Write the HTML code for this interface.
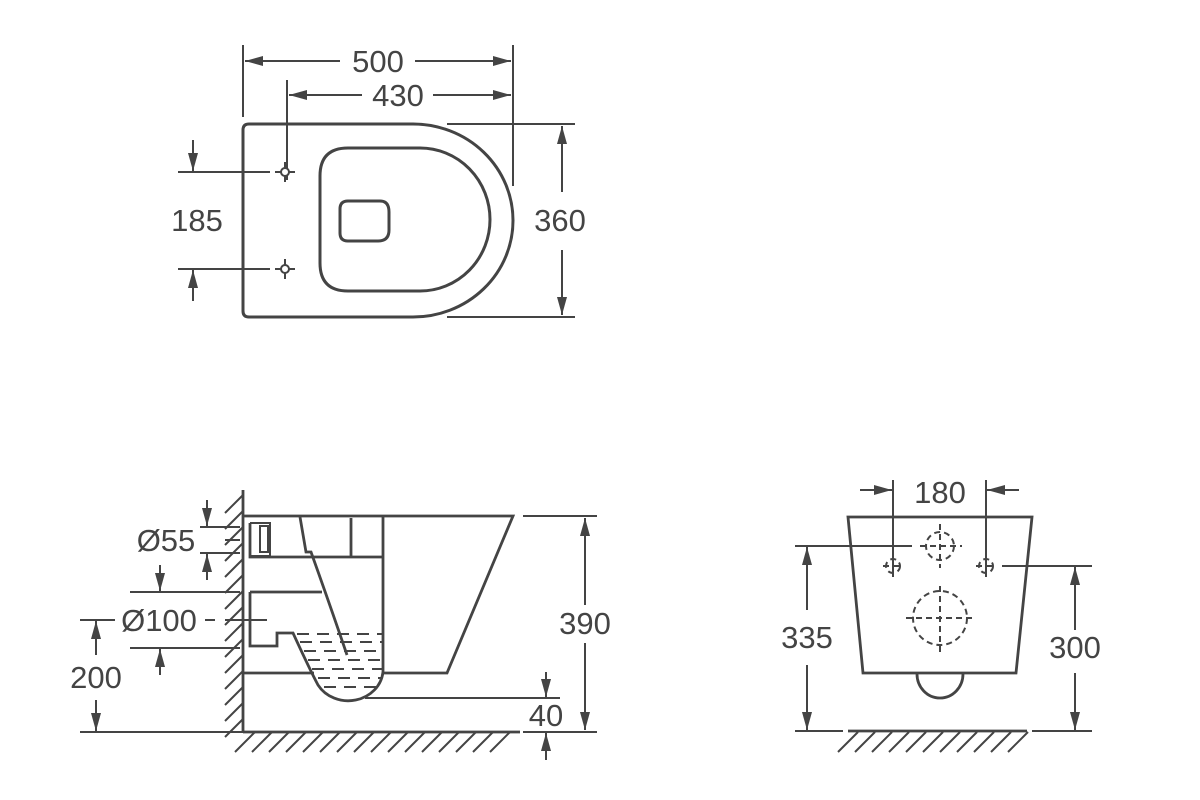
<!DOCTYPE html>
<html><head><style>
html,body{margin:0;padding:0;background:#fff;}
svg{display:block;}
text{font-family:"Liberation Sans",sans-serif;font-size:31px;fill:#444;text-anchor:middle;}
</style></head><body>
<svg width="1200" height="800" viewBox="0 0 1200 800" xmlns="http://www.w3.org/2000/svg">
<defs>
<marker id="a" viewBox="0 0 18 10" refX="18" refY="5" markerWidth="18" markerHeight="10" markerUnits="userSpaceOnUse" orient="auto"><path d="M0,0 L18,5 L0,10 z" fill="#444"/></marker>
</defs>
<g stroke="#444" fill="none" stroke-width="2">
<line x1="243" y1="45" x2="243" y2="117"/>
<line x1="513" y1="45" x2="513" y2="186"/>
<line x1="287" y1="80" x2="287" y2="180"/>
<line x1="340" y1="61" x2="245" y2="61" marker-end="url(#a)"/>
<line x1="415" y1="61" x2="511" y2="61" marker-end="url(#a)"/>
<line x1="362" y1="95" x2="289" y2="95" marker-end="url(#a)"/>
<line x1="433" y1="95" x2="511" y2="95" marker-end="url(#a)"/>
<line x1="178" y1="172" x2="270" y2="172"/>
<line x1="178" y1="269" x2="270" y2="269"/>
<line x1="193" y1="140" x2="193" y2="171" marker-end="url(#a)"/>
<line x1="193" y1="301" x2="193" y2="270" marker-end="url(#a)"/>
<line x1="447" y1="124" x2="575" y2="124"/>
<line x1="447" y1="317" x2="575" y2="317"/>
<line x1="562" y1="192" x2="562" y2="126" marker-end="url(#a)"/>
<line x1="562" y1="250" x2="562" y2="315" marker-end="url(#a)"/>
<line x1="275" y1="172" x2="295" y2="172"/><line x1="285" y1="162" x2="285" y2="182"/>
<line x1="275" y1="269" x2="295" y2="269"/><line x1="285" y1="259" x2="285" y2="279"/>
</g>
<g stroke="#444" fill="none" stroke-width="3">
<path d="M249,124 H413 A100,96.5 0 0 1 413,317 H249 Q243,317 243,311 V130 Q243,124 249,124 Z"/>
<path d="M348,148 H420 A70,71.5 0 0 1 420,291 H348 Q320,291 320,263 V176 Q320,148 348,148 Z"/>
<path d="M348,201 H380 Q389,201 389,212 V230 Q389,241 378,241 H348 Q340,241 340,233 V209 Q340,201 348,201 Z"/>
</g>
<circle cx="285" cy="172" r="4" fill="#fff" stroke="#444" stroke-width="2"/>
<circle cx="285" cy="269" r="4" fill="#fff" stroke="#444" stroke-width="2"/>
<text x="378" y="72">500</text>
<text x="398" y="106">430</text>
<text x="197" y="231">185</text>
<text x="560" y="231">360</text>

<g stroke="#444" fill="none" stroke-width="2">
<line x1="523" y1="516" x2="597" y2="516"/>
<line x1="523" y1="732" x2="597" y2="732"/>
<line x1="585" y1="605" x2="585" y2="518" marker-end="url(#a)"/>
<line x1="585" y1="643" x2="585" y2="730" marker-end="url(#a)"/>
<line x1="365" y1="698" x2="560" y2="698"/>
<line x1="546" y1="672" x2="546" y2="697" marker-end="url(#a)"/>
<line x1="546" y1="760" x2="546" y2="733" marker-end="url(#a)"/>
<line x1="200" y1="527" x2="240" y2="527"/>
<line x1="200" y1="553" x2="240" y2="553"/>
<line x1="207" y1="500" x2="207" y2="526" marker-end="url(#a)"/>
<line x1="207" y1="580" x2="207" y2="554" marker-end="url(#a)"/>
<line x1="130" y1="592" x2="240" y2="592"/>
<line x1="130" y1="648" x2="240" y2="648"/>
<line x1="160" y1="565" x2="160" y2="591" marker-end="url(#a)"/>
<line x1="160" y1="675" x2="160" y2="649" marker-end="url(#a)"/>
<line x1="205" y1="620" x2="215" y2="620"/>
<line x1="225" y1="540" x2="240" y2="540"/>
<line x1="225" y1="620" x2="267" y2="620"/>
<line x1="80" y1="620" x2="115" y2="620"/>
<line x1="80" y1="732" x2="243" y2="732"/>
<line x1="96" y1="655" x2="96" y2="621" marker-end="url(#a)"/>
<line x1="96" y1="700" x2="96" y2="731" marker-end="url(#a)"/>
<path d="M225,513 L243,495 M225,529 L243,511 M225,545 L243,527 M225,561 L243,543 M225,577 L243,559 M225,593 L243,575 M225,609 L243,591 M225,625 L243,607 M225,641 L243,623 M225,657 L243,639 M225,673 L243,655 M225,689 L243,671 M225,705 L243,687 M225,721 L243,703 M225,737 L243,719"/>
<path d="M235,752 L255,732 M252,752 L272,732 M269,752 L289,732 M286,752 L306,732 M303,752 L323,732 M320,752 L340,732 M337,752 L357,732 M354,752 L374,732 M371,752 L391,732 M388,752 L408,732 M405,752 L425,732 M422,752 L442,732 M439,752 L459,732 M456,752 L476,732 M473,752 L493,732 M490,752 L510,732"/>
<g stroke-dasharray="12,8">
<line x1="297" y1="634" x2="382" y2="634"/>
<line x1="300" y1="642" x2="382" y2="642"/>
<line x1="304" y1="651" x2="382" y2="651"/>
<line x1="308" y1="660" x2="382" y2="660"/>
<line x1="312" y1="669" x2="382" y2="669"/>
<line x1="318" y1="678" x2="382" y2="678"/>
<line x1="324" y1="687" x2="376" y2="687"/>
</g>
</g>
<g stroke="#444" fill="none" stroke-width="2.8">
<line x1="243" y1="490" x2="243" y2="732"/>
<line x1="243" y1="732" x2="520" y2="732"/>
<path d="M243,516 H513 L447,673 H383 V516"/>
<path d="M250,523 V557 H383"/>
<line x1="351" y1="518" x2="351" y2="556"/>
<path d="M300,517 L306,552 H311 Q330,605 347,655"/>
<path d="M250,592 H322 M250,592 V646 H277 V633 H293 Q310,670 318,685 A35,32 0 0 0 383,672"/>
<line x1="243" y1="673" x2="314" y2="673"/>
<path d="M250,523 H270 V556 H250" stroke-width="2"/>
<path d="M260,526 H268 V552 H260 Z" stroke-width="2"/>
</g>
<text x="166" y="551">Ø55</text>
<text x="159" y="631">Ø100</text>
<text x="96" y="688">200</text>
<text x="585" y="634">390</text>
<text x="546" y="726">40</text>

<g stroke="#444" fill="none" stroke-width="2">
<line x1="893" y1="480" x2="893" y2="577"/>
<line x1="986" y1="480" x2="986" y2="577"/>
<line x1="860" y1="490" x2="892" y2="490" marker-end="url(#a)"/>
<line x1="1019" y1="490" x2="987" y2="490" marker-end="url(#a)"/>
<line x1="795" y1="546" x2="912" y2="546"/>
<line x1="1002" y1="566" x2="1092" y2="566"/>
<line x1="795" y1="731" x2="843" y2="731"/>
<line x1="1032" y1="731" x2="1092" y2="731"/>
<line x1="807" y1="610" x2="807" y2="547" marker-end="url(#a)"/>
<line x1="807" y1="665" x2="807" y2="730" marker-end="url(#a)"/>
<line x1="1075" y1="630" x2="1075" y2="567" marker-end="url(#a)"/>
<line x1="1075" y1="673" x2="1075" y2="730" marker-end="url(#a)"/>
<path d="M838,752 L858,732 M855,752 L875,732 M872,752 L892,732 M889,752 L909,732 M906,752 L926,732 M923,752 L943,732 M940,752 L960,732 M957,752 L977,732 M974,752 L994,732 M991,752 L1011,732 M1008,752 L1028,732"/>
<g stroke-dasharray="6,4">
<circle cx="893" cy="566" r="7"/><circle cx="986" cy="566" r="7"/>
<circle cx="940" cy="546" r="14"/>
<circle cx="940" cy="618" r="27"/>
<line x1="883" y1="566" x2="903" y2="566"/><line x1="893" y1="556" x2="893" y2="576"/>
<line x1="976" y1="566" x2="996" y2="566"/><line x1="986" y1="556" x2="986" y2="576"/>
<line x1="920" y1="546" x2="962" y2="546"/><line x1="940" y1="524" x2="940" y2="568"/>
<line x1="906" y1="618" x2="974" y2="618"/><line x1="940" y1="586" x2="940" y2="654"/>
</g>
</g>
<g stroke="#444" fill="none" stroke-width="2.8">
<path d="M848,517 H1032 L1016,673 H863 Z"/>
<path d="M917,674 A23,24 0 0 0 963,674"/>
<line x1="848" y1="731" x2="1027" y2="731"/>
</g>
<text x="940" y="503">180</text>
<text x="807" y="648">335</text>
<text x="1075" y="658">300</text>
</svg>
</body></html>
